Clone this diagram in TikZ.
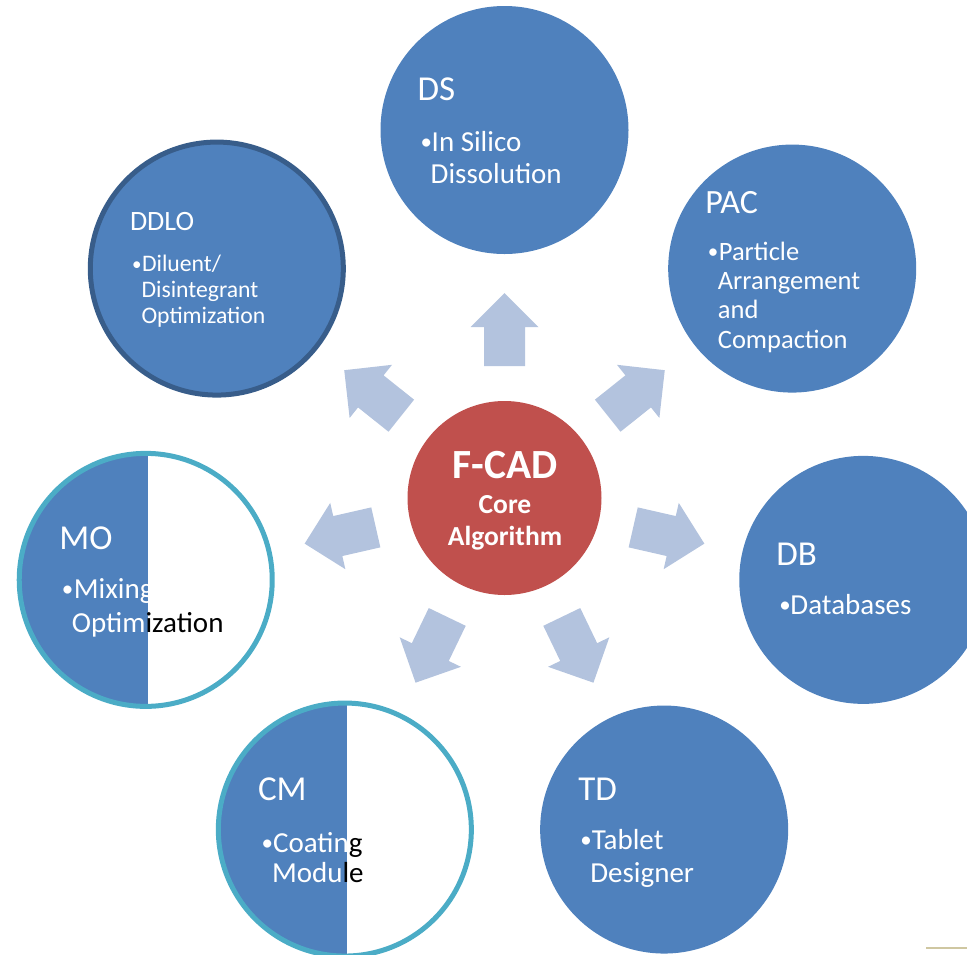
\documentclass[tikz,border=0pt]{standalone}
\usepackage{fontspec}
\setmainfont{Carlito}
\definecolor{cblue}{HTML}{4F81BD}
\definecolor{cdark}{HTML}{385D8A}
\definecolor{caqua}{HTML}{4BACC6}
\definecolor{cred}{HTML}{C0504D}
\definecolor{carrow}{HTML}{B3C3DE}
\definecolor{ctan}{HTML}{CFC7A1}
\begin{document}
\begin{tikzpicture}[x=1pt,y=1pt,
  bub/.style={circle, fill=cblue, draw=none, minimum size=248pt, inner sep=0pt},
  ringdark/.style={circle, fill=cblue, draw=cdark, line width=5pt, minimum size=253pt, inner sep=0pt},
  halfbub/.style={circle, fill=white, draw=caqua, line width=5pt, minimum size=253pt, inner sep=0pt,
    path picture={\fill[cblue] (path picture bounding box.south west) rectangle ([xshift=2pt]path picture bounding box.north);}},
  ttl/.style={anchor=base west, text=white, inner sep=0pt, font=\fontsize{35}{35}\selectfont},
  bdy/.style={anchor=base west, text=white, inner sep=0pt, font=\fontsize{29}{29}\selectfont},
  bul/.style={anchor=base west, text=white, inner sep=0pt, font=\fontsize{23}{23}\selectfont},
  arrowblk/.style={fill=carrow, draw=none},
  coretxt/.style={anchor=base, text=white, inner sep=0pt, font=\bfseries\fontsize{27.5}{27.5}\selectfont},
]
\useasboundingbox (0,0) rectangle (967,-954);
\coordinate (C) at (504.5,-498);

% arrows
\foreach \a in {90, 38.571, -12.857, -64.286, -115.714, -167.143, 141.429} {
  \begin{scope}[shift={(504.5,-498)}, rotate=\a]
    \fill[arrowblk] (132,-20.5) -- (171,-20.5) -- (171,-34) -- (205,0) -- (171,34) -- (171,20.5) -- (132,20.5) -- cycle;
  \end{scope}
}

% core
\node[circle, fill=cred, draw=none, minimum size=194pt, inner sep=0pt] (core) at (C) {};
\node[coretxt, font=\bfseries\fontsize{41.5}{41.5}\selectfont] (coreA) at (505,-478) {F-CAD};
\node[coretxt] (coreB) at (505,-513) {Core};
\node[coretxt] (coreC) at (505,-545) {Algorithm};

% satellites
\path (C) ++(90:368) node[bub] (DS) {};
\path (C) ++(38.571:368) node[bub] (PAC) {};
\path (C) ++(-12.857:368) node[bub] (DB) {};
\path (C) ++(-64.286:368) node[bub] (TD) {};
\path (C) ++(-115.714:368) node[halfbub] (CM) {};
\path (C) ++(-167.143:368) node[halfbub] (MO) {};
\path (C) ++(141.429:368) node[ringdark] (DDLO) {};

% DS
\node[ttl] (DSt) at ([shift={(-87,30)}]DS.center) {DS};
\node[bul] (DSb) at ([shift={(-84,-19)}]DS.center) {•};
\node[bdy] (DS1) at ([shift={(-73,-21)}]DS.center) {In Silico};
\node[bdy] (DS2) at ([shift={(-74,-53)}]DS.center) {Dissolution};

% PAC
\node[ttl, font=\fontsize{34}{34}\selectfont] (PACt) at ([shift={(-87,55.5)}]PAC.center) {PAC};
\node[bul, font=\fontsize{21}{21}\selectfont] (PACb) at ([shift={(-84.5,10.3)}]PAC.center) {•};
\node[bdy, font=\fontsize{26.5}{26.5}\selectfont] (PAC1) at ([shift={(-73.5,8.5)}]PAC.center) {Particle};
\node[bdy, font=\fontsize{26.5}{26.5}\selectfont] (PAC2) at ([shift={(-74.5,-20.5)}]PAC.center) {Arrangement};
\node[bdy, font=\fontsize{26.5}{26.5}\selectfont] (PAC3) at ([shift={(-74.5,-49.5)}]PAC.center) {and};
\node[bdy, font=\fontsize{26.5}{26.5}\selectfont] (PAC4) at ([shift={(-74.5,-79.5)}]PAC.center) {Compaction};

% DB
\node[ttl] (DBt) at ([shift={(-87,14)}]DB.center) {DB};
\node[bul] (DBb) at ([shift={(-84,-33)}]DB.center) {•};
\node[bdy] (DB1) at ([shift={(-73,-35)}]DB.center) {Databases};

% TD
\node[ttl] (TDt) at ([shift={(-86,29.5)}]TD.center) {TD};
\node[bul] (TDb) at ([shift={(-84,-17.5)}]TD.center) {•};
\node[bdy] (TD1) at ([shift={(-72.5,-19.5)}]TD.center) {Tablet};
\node[bdy] (TD2) at ([shift={(-74,-52.5)}]TD.center) {Designer};

% DDLO
\node[ttl, font=\fontsize{28}{28}\selectfont] (DDLOt) at ([shift={(-87,37.6)}]DDLO.center) {DDLO};
\node[bul, font=\fontsize{19}{19}\selectfont] (DDLOb) at ([shift={(-85,-1.8)}]DDLO.center) {•};
\node[bdy, font=\fontsize{23.7}{23.7}\selectfont] (DDLO1) at ([shift={(-75,-3.4)}]DDLO.center) {Diluent/};
\node[bdy, font=\fontsize{23.7}{23.7}\selectfont] (DDLO2) at ([shift={(-75.5,-29.4)}]DDLO.center) {Disintegrant};
\node[bdy, font=\fontsize{23.7}{23.7}\selectfont] (DDLO3) at ([shift={(-75.5,-55.4)}]DDLO.center) {Optimization};

% MO (text crosses the blue/white split)
\node[ttl] (MOt) at ([shift={(-86.5,30)}]MO.center) {MO};
\node[bul] (MOb) at ([shift={(-84,-17)}]MO.center) {•};
\node[bdy] (MO1) at ([shift={(-72,-19)}]MO.center) {Mixin\textcolor{white}{g}};
\node[bdy] (MO2) at ([shift={(-74,-53)}]MO.center) {Optim\textcolor{black}{ization}};

% CM (text crosses the blue/white split)
\node[ttl] (CMt) at ([shift={(-87,29.5)}]CM.center) {CM};
\node[bul] (CMb) at ([shift={(-83.5,-20.5)}]CM.center) {•};
\node[bdy] (CM1) at ([shift={(-72,-22.5)}]CM.center) {Coatin\textcolor{black}{g}};
\node[bdy] (CM2) at ([shift={(-73,-52.5)}]CM.center) {Modu\textcolor{black}{le}};

% footer rule
\coordinate (ruleA) at (926,-948);
\coordinate (ruleB) at (967,-948);
\draw[ctan, line width=2pt] (ruleA) -- (ruleB);
\end{tikzpicture}
\end{document}
